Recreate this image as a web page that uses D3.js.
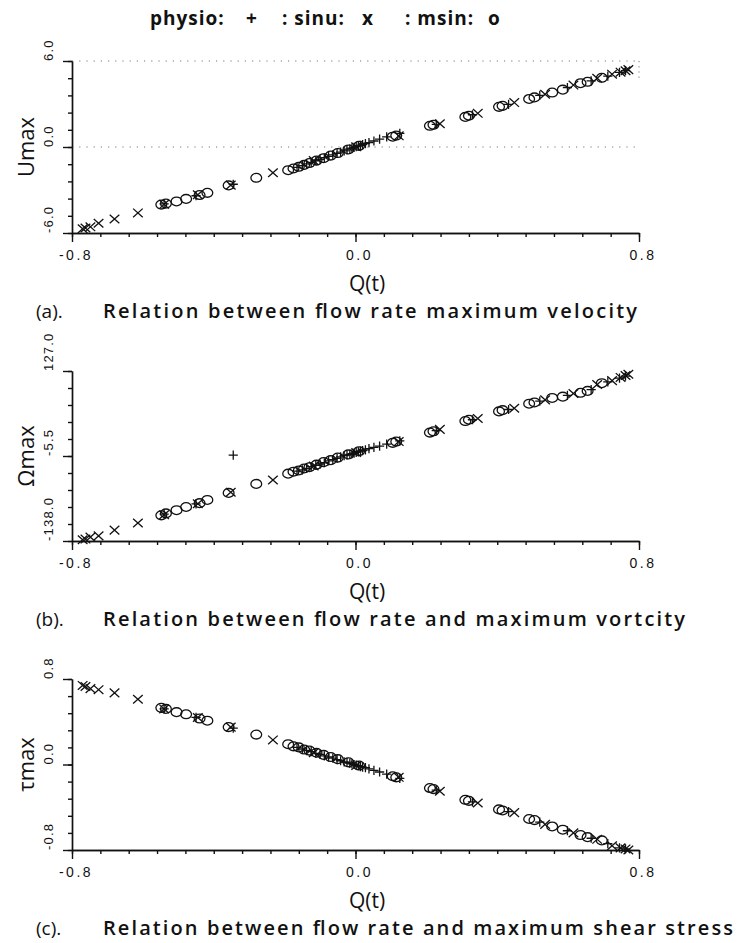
<!DOCTYPE html>
<html>
<head>
<meta charset="utf-8">
<script src="https://cdn.jsdelivr.net/npm/d3@7"></script>
<style>
body{margin:0;background:#fff;}
svg{display:block;}
.num{font-family:"Liberation Sans",Arial,sans-serif;fill:#111;}
.cap{font-family:"Open Sans","DejaVu Sans",sans-serif;fill:#111;}
.mark{fill:none;stroke:#111;stroke-width:1.3;}
.axis path,.axis line{stroke:#111;stroke-width:1.4;}
</style>
</head>
<body>
<svg id="chart" width="745" height="943"></svg>
<script>
// ---- data ----
// x ticks (flow rate Q(t))
const xTickValues = [-0.8, 0.0, 0.8];
const xTickLabels = ["-0.8", "0.0", "0.8"];

// y ticks per panel
const uTickValues = [-6, 0, 6];
const uTickLabels = ["-6.0", "0.0", "6.0"];
const omegaTickValues = [-138, -5.5, 127];
const omegaTickLabels = ["-138.0", "-5.5", "127.0"];
const tauTickValues = [-0.8, 0.0, 0.8];
const tauTickLabels = ["-0.8", "0.0", "0.8"];

// sinu (x)
const sinuQ     = [-0.770,-0.762,-0.748,-0.725,-0.680,-0.614,-0.540,-0.445,-0.352,-0.233,-0.118,0.002,0.122,0.238,0.345,0.448,0.535,0.615,0.682,0.724,0.748,0.762,0.770];
const sinuU     = [-5.70,-5.65,-5.57,-5.32,-5.02,-4.60,-4.00,-3.33,-2.66,-1.80,-0.95,0.02,0.78,1.62,2.35,3.10,3.68,4.32,4.80,5.08,5.22,5.32,5.40];
const sinuOmega = [-136,-135,-132,-130,-121,-110,-97,-80,-62,-43,-21,0,17,36,53,69,82,92,106,112,117,120,122];
const sinuTau   = [0.74,0.73,0.71,0.70,0.67,0.61,0.52,0.44,0.35,0.23,0.11,-0.01,-0.12,-0.25,-0.36,-0.45,-0.56,-0.64,-0.70,-0.76,-0.78,-0.79,-0.80];

// msin (o)
const msinQ     = [-0.548,-0.535,-0.505,-0.478,-0.440,-0.418,-0.358,-0.280,-0.190,-0.175,-0.160,-0.145,-0.130,-0.110,-0.090,-0.070,-0.050,-0.020,0.010,0.105,0.115,0.210,0.220,0.310,0.320,0.405,0.415,0.490,0.505,0.555,0.585,0.635,0.655,0.695];
const msinU     = [-4.02,-3.95,-3.80,-3.62,-3.35,-3.20,-2.68,-2.15,-1.62,-1.50,-1.38,-1.25,-1.12,-0.95,-0.78,-0.60,-0.42,-0.17,0.08,0.72,0.80,1.48,1.55,2.10,2.18,2.80,2.87,3.35,3.46,3.80,4.00,4.45,4.55,4.83];
const msinOmega = [-98,-95,-90,-85,-79,-74,-63,-49,-33,-30,-28,-25,-23,-19,-15,-12,-8,-3,2,15,17,31,33,49,51,64,66,76,78,85,87,93,96,108];
const msinTau   = [0.53,0.52,0.49,0.47,0.43,0.41,0.35,0.28,0.19,0.17,0.16,0.14,0.13,0.11,0.09,0.07,0.05,0.02,-0.01,-0.11,-0.12,-0.22,-0.23,-0.33,-0.34,-0.42,-0.43,-0.51,-0.52,-0.58,-0.61,-0.66,-0.68,-0.71];

// physio (+)
const physioQ     = [-0.540,-0.450,-0.345,-0.165,-0.150,-0.138,-0.125,-0.112,-0.100,-0.088,-0.076,-0.064,-0.052,-0.042,-0.032,-0.024,-0.016,-0.010,-0.004,0.002,0.008,0.014,0.020,0.028,0.038,0.052,0.068,0.088,0.125,0.228,0.330,0.432,0.520,0.598,0.665,0.712,0.745,0.762];
const physioU     = [-3.97,-3.40,-2.60,-1.42,-1.30,-1.18,-1.07,-0.96,-0.86,-0.75,-0.65,-0.55,-0.45,-0.36,-0.27,-0.20,-0.13,-0.08,-0.03,0.02,0.07,0.12,0.17,0.23,0.31,0.42,0.55,0.70,0.95,1.58,2.25,2.98,3.60,4.15,4.62,4.95,5.20,5.33];
const physioOmega = [-96,-80,-4,-29,-27,-25,-22,-20,-18,-16,-13,-11,-9,-7,-5,-4,-3,-2,-1,0,1,2,3,4,6,8,10,13,18,34,51,67,80,89,98,110,116,119];
const physioTau   = [0.52,0.44,0.34,0.16,0.145,0.13,0.12,0.105,0.095,0.08,0.07,0.06,0.045,0.035,0.025,0.02,0.01,0.005,0.0,-0.005,-0.01,-0.02,-0.025,-0.03,-0.04,-0.055,-0.07,-0.09,-0.13,-0.24,-0.35,-0.44,-0.54,-0.62,-0.69,-0.74,-0.78,-0.79];

// ---- layout ----
const svg = d3.select("#chart");
const x = d3.scaleLinear().domain([-0.8, 0.8]).range([72, 639]);

// marker shapes (drawn with stroke only)
const shapes = {
    physio: "M-4.6,0H4.6M0,-4.6V4.6",
    sinu: "M-4.8,-4.3L4.8,4.3M-4.8,4.3L4.8,-4.3"
};

const series = [
    {name:"msin", q:msinQ, u:msinU, omega:msinOmega, tau:msinTau},
    {name:"sinu", q:sinuQ, u:sinuU, omega:sinuOmega, tau:sinuTau},
    {name:"physio", q:physioQ, u:physioU, omega:physioOmega, tau:physioTau}
];

const panels = [
    {key:"u", top:61, bottom:233, domain:[-6, 6], ticks:uTickValues, labels:uTickLabels,
     title:"Umax", tag:"(a).", caption:"Relation between flow rate maximum velocity", capLen:534, grid:true},
    {key:"omega", top:371, bottom:541, domain:[-138, 127], ticks:omegaTickValues, labels:omegaTickLabels,
     title:"\u03A9max", tag:"(b).", caption:"Relation between flow rate and maximum vortcity", capLen:582, grid:false},
    {key:"tau", top:679, bottom:850, domain:[-0.8, 0.8], ticks:tauTickValues, labels:tauTickLabels,
     title:"\u03C4max", tag:"(c).", caption:"Relation between flow rate and maximum shear stress", capLen:630, grid:false}
];

/**
 * Legend line at the top
 */
function drawLegend(){
    let parts = [
        {t:"physio:", x:150}, {t:"+", x:246}, {t:": sinu:", x:282},
        {t:"x", x:362}, {t:": msin:", x:405}, {t:"o", x:488}
    ];
    svg.append("g").selectAll("text").data(parts).join("text")
        .attr("class","cap")
        .attr("x", d => d.x).attr("y", 25)
        .style("font-size","19px").style("font-weight",700)
        .attr("letter-spacing", 1)
        .text(d => d.t);
}

/**
 * One scatter panel with axes, labels and caption
 */
function drawPanel(p){
    let y = d3.scaleLinear().domain(p.domain).range([p.bottom, p.top]);
    let g = svg.append("g");

    // dotted reference lines (only on the velocity panel)
    if(p.grid){
        g.selectAll("line.grid").data([p.domain[1], 0]).join("line")
            .attr("x1", x(-0.8)).attr("x2", x(0.8))
            .attr("y1", d => y(d)).attr("y2", d => y(d))
            .attr("stroke","#777").attr("stroke-width",1)
            .attr("stroke-dasharray","1.2,6");
        g.append("line")
            .attr("x1", x(0.8)).attr("x2", x(0.8))
            .attr("y1", y(6)).attr("y2", y(4.6))
            .attr("stroke","#777").attr("stroke-width",1)
            .attr("stroke-dasharray","1.2,4");
    }

    // minor + major ticks on x
    let xMinor = d3.range(21).map(i => -0.8 + i * 0.08);
    g.append("g").attr("class","axis")
        .attr("transform", `translate(0,${p.bottom})`)
        .call(d3.axisBottom(x).tickValues(xMinor).tickSize(4).tickSizeOuter(0).tickFormat(""));
    g.append("g").attr("class","axis")
        .attr("transform", `translate(0,${p.bottom})`)
        .call(d3.axisBottom(x).tickValues(xTickValues).tickSize(9).tickSizeOuter(0).tickFormat(""));

    // minor + major ticks on y
    let lo = p.domain[0], hi = p.domain[1];
    let yMinor = d3.range(11).map(i => lo + i * (hi - lo) / 10);
    g.append("g").attr("class","axis")
        .attr("transform", `translate(${x(-0.8)},0)`)
        .call(d3.axisLeft(y).tickValues(yMinor).tickSize(4).tickSizeOuter(0).tickFormat(""));
    g.append("g").attr("class","axis")
        .attr("transform", `translate(${x(-0.8)},0)`)
        .call(d3.axisLeft(y).tickValues(p.ticks).tickSize(9).tickSizeOuter(0).tickFormat(""));

    // x tick labels
    g.selectAll("text.xl").data(xTickValues).join("text")
        .attr("class","num")
        .attr("x", d => x(d) + 4).attr("y", p.bottom + 27)
        .attr("text-anchor","middle")
        .style("font-size","14px").attr("letter-spacing", 2.5)
        .text((d,i) => xTickLabels[i]);

    // y tick labels, rotated, starting at the tick
    g.selectAll("text.yl").data(p.ticks).join("text")
        .attr("class","num")
        .attr("transform", d => `translate(53,${y(d)}) rotate(-90)`)
        .attr("text-anchor","start")
        .style("font-size","13px").attr("letter-spacing", 1.2)
        .text((d,i) => p.labels[i]);

    // axis titles
    g.append("text").attr("class","cap")
        .attr("transform", `translate(34,${(p.top + p.bottom) / 2}) rotate(-90)`)
        .attr("text-anchor","middle")
        .style("font-size","22px").style("font-weight",500)
        .text(p.title);
    g.append("text").attr("class","cap")
        .attr("x", 367).attr("y", p.bottom + 58)
        .attr("text-anchor","middle")
        .style("font-size","21px").style("font-weight",400)
        .text("Q(t)");

    // caption
    g.append("text").attr("class","cap")
        .attr("x", 36).attr("y", p.bottom + 85)
        .style("font-size","19px").style("font-weight",400)
        .text(p.tag);
    g.append("text").attr("class","cap")
        .attr("x", 103).attr("y", p.bottom + 85)
        .style("font-size","20px").style("font-weight",600)
        .attr("textLength", p.capLen).attr("lengthAdjust","spacing")
        .text(p.caption);

    // points for each series
    for(let s of series){
        let pts = s.q.map((q,i) => ({q:q, v:s[p.key][i]}));
        if(s.name == "msin"){
            g.append("g").selectAll("ellipse").data(pts).join("ellipse")
                .attr("class","mark")
                .attr("cx", d => x(d.q)).attr("cy", d => y(d.v))
                .attr("rx", 5.4).attr("ry", 4.4);
        }else{
            g.append("g").selectAll("path").data(pts).join("path")
                .attr("class","mark")
                .attr("transform", d => `translate(${x(d.q)},${y(d.v)})`)
                .attr("d", shapes[s.name]);
        }
    }
}

drawLegend();
for(let p of panels){
    drawPanel(p);
}
</script>
</body>
</html>
